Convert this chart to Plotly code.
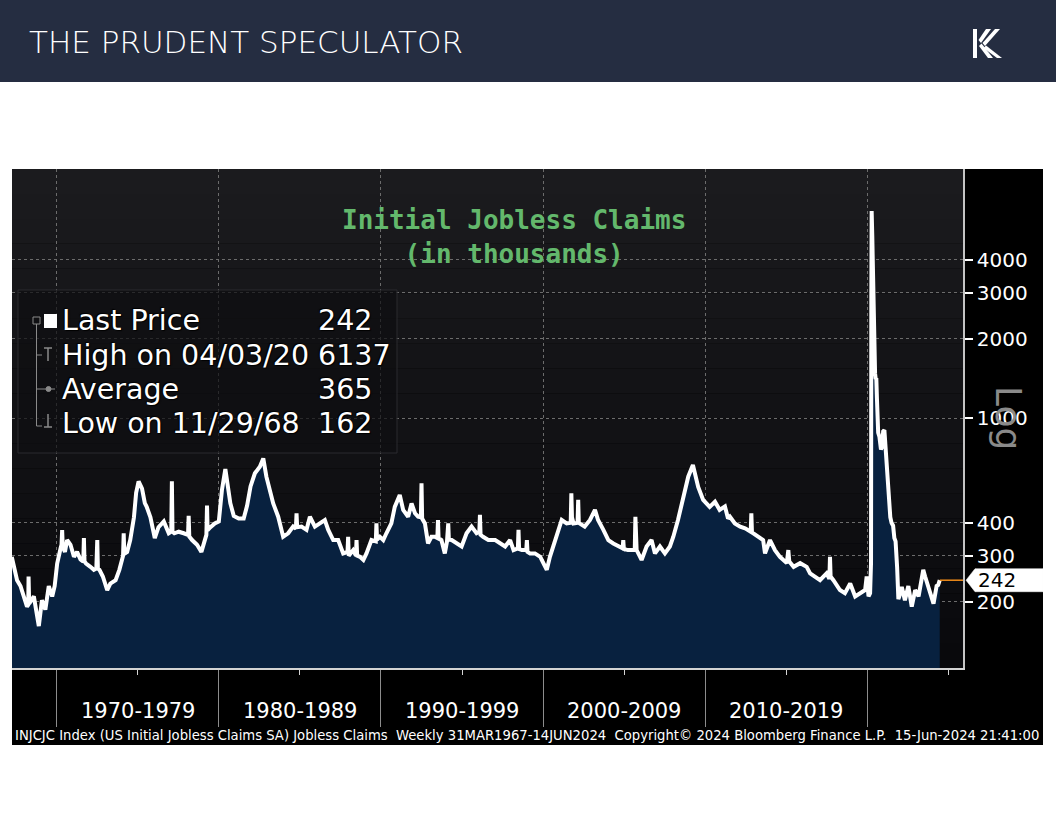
import math
import plotly.graph_objects as go

W, H = 1056, 816


def px(x):
    return x / W


def py(y):
    return 1 - y / H


# ---------------- data ----------------
dates = [
    '1967-03-31', '1967-06-09', '1967-07-28', '1967-10-13', '1967-12-22',
    '1968-03-08', '1968-04-05', '1968-04-12', '1968-04-26', '1968-08-09', '1968-10-18', '1968-11-29',
    '1969-02-07', '1969-04-25', '1969-07-11', '1969-09-26', '1969-11-21',
    '1970-01-16', '1970-04-03', '1970-04-24', '1970-05-08', '1970-05-22', '1970-07-10', '1970-08-28', '1970-11-13',
    '1971-01-29', '1971-04-09', '1971-06-25', '1971-08-27', '1971-09-10', '1971-09-24', '1971-10-29',
    '1972-02-04', '1972-04-21', '1972-06-16', '1972-07-07', '1972-07-21', '1972-08-25', '1972-11-10',
    '1973-02-16', '1973-04-27', '1973-08-24', '1973-11-16',
    '1974-02-08', '1974-02-22', '1974-03-08', '1974-05-10', '1974-07-19', '1974-10-11', '1974-11-29',
    '1975-01-24', '1975-04-11', '1975-06-13', '1975-07-25', '1975-10-17',
    '1976-01-23', '1976-04-16', '1976-08-13', '1976-12-03',
    '1977-01-28', '1977-02-11', '1977-02-25', '1977-04-08', '1977-07-15', '1977-11-04',
    '1978-02-10', '1978-02-24', '1978-03-10', '1978-05-12', '1978-09-01', '1978-12-08',
    '1979-02-23', '1979-03-30', '1979-04-13', '1979-04-27', '1979-06-29', '1979-10-05',
    '1980-01-04', '1980-03-14', '1980-05-30', '1980-07-25', '1980-09-19', '1980-12-05',
    '1981-03-27', '1981-07-17', '1981-10-02', '1981-12-18',
    '1982-03-26', '1982-07-16', '1982-10-01', '1982-12-10',
    '1983-02-25', '1983-05-13', '1983-09-02', '1983-12-23',
    '1984-04-13', '1984-08-03', '1984-10-05', '1984-10-19', '1984-11-02',
    '1985-02-08', '1985-05-31', '1985-08-16', '1985-12-06',
    '1986-03-28', '1986-07-18', '1986-10-03',
    '1987-01-23', '1987-05-15', '1987-09-04', '1987-12-11', '1987-12-25',
    '1988-01-08', '1988-04-15', '1988-06-17', '1988-07-01', '1988-07-15', '1988-09-16', '1988-12-02',
    '1989-02-10', '1989-06-02', '1989-09-08', '1989-09-22', '1989-10-06', '1989-12-08',
    '1990-02-23', '1990-05-04', '1990-08-24', '1990-11-09',
    '1991-03-01', '1991-05-17', '1991-09-06', '1991-11-22',
    '1992-02-07', '1992-04-17', '1992-06-19', '1992-07-03', '1992-07-17', '1992-09-18', '1992-11-27',
    '1993-02-12', '1993-04-30', '1993-06-25', '1993-07-09', '1993-07-23', '1993-09-24', '1993-12-10',
    '1994-01-28', '1994-02-25', '1994-03-11', '1994-05-13', '1994-09-02', '1994-12-23',
    '1995-04-14', '1995-08-04', '1995-11-24',
    '1996-01-26', '1996-02-09', '1996-02-23', '1996-04-19', '1996-08-16',
    '1997-01-17', '1997-05-09', '1997-08-29', '1997-12-19',
    '1998-03-06', '1998-06-12', '1998-06-26', '1998-07-10', '1998-09-11', '1998-12-18',
    '1999-01-01', '1999-01-15', '1999-03-12', '1999-07-02', '1999-10-29',
    '2000-01-07', '2000-03-24', '2000-06-02', '2000-09-29', '2000-12-15',
    '2001-02-23', '2001-06-15', '2001-09-14', '2001-09-28', '2001-10-12', '2001-11-16',
    '2002-02-15', '2002-03-01', '2002-03-15', '2002-07-26', '2002-11-22',
    '2003-03-14', '2003-05-23', '2003-09-19',
    '2004-01-09', '2004-04-30', '2004-08-20', '2004-11-26', '2004-12-10', '2004-12-24',
    '2005-03-25', '2005-08-26', '2005-09-09', '2005-09-23', '2005-10-07',
    '2006-01-27', '2006-05-19', '2006-09-08', '2006-11-24',
    '2007-03-16', '2007-07-06', '2007-10-26',
    '2008-01-11', '2008-04-25', '2008-07-11', '2008-09-26', '2008-12-12',
    '2009-03-27', '2009-05-08', '2009-07-24', '2009-11-13',
    '2010-04-09', '2010-08-06', '2010-11-19',
    '2011-03-18', '2011-05-27', '2011-07-08', '2011-10-28',
    '2012-02-24', '2012-06-15', '2012-10-19', '2012-11-02', '2012-11-16', '2012-12-14',
    '2013-04-05', '2013-07-26', '2013-09-06', '2013-12-27',
    '2014-04-18', '2014-08-08',
    '2015-01-09', '2015-02-13', '2015-03-06', '2015-06-12', '2015-11-06',
    '2016-04-01', '2016-06-17', '2016-10-07',
    '2017-01-27', '2017-06-23', '2017-08-25', '2017-09-08', '2017-09-22', '2017-11-24',
    '2018-04-20', '2018-08-10', '2018-12-07',
    '2019-03-29', '2019-07-19', '2019-11-08', '2019-12-13',
    '2020-01-24', '2020-02-28', '2020-03-20', '2020-03-27', '2020-04-03', '2020-04-10',
    '2020-04-17', '2020-04-24', '2020-05-01', '2020-05-08', '2020-05-15', '2020-05-22',
    '2020-05-29', '2020-06-05', '2020-06-19', '2020-07-03', '2020-07-17', '2020-07-31',
    '2020-08-14', '2020-08-28', '2020-09-25', '2020-10-30', '2020-11-27', '2020-12-18',
    '2021-01-15', '2021-02-26', '2021-03-26', '2021-04-16', '2021-05-28', '2021-06-25',
    '2021-07-30', '2021-08-27', '2021-09-24', '2021-10-29', '2021-11-26', '2021-12-17',
    '2022-02-11', '2022-04-22', '2022-07-08', '2022-09-23', '2022-12-09',
    '2023-02-24', '2023-05-12', '2023-06-09', '2023-07-21', '2023-11-10',
    '2024-01-26', '2024-04-05', '2024-05-10', '2024-06-14',
]

claims = [
    297, 257, 242, 230, 210,
    192, 195, 250, 197, 210, 181, 162,
    203, 187, 230, 210, 230,
    280, 320, 330, 375, 325, 310, 344, 330,
    297, 310, 290, 285, 350, 285, 280,
    272, 265, 268, 344, 268, 265, 250,
    222, 235, 242, 265,
    300, 365, 305, 310, 344, 420, 520,
    575, 540, 475, 460, 420,
    350, 385, 405, 365,
    370, 575, 370, 365, 370, 365,
    360, 425, 355, 344, 330, 310,
    344, 360, 465, 375, 385, 398,
    405, 533, 640, 565, 475, 425,
    415, 415, 465, 550,
    617, 654, 703, 599,
    533, 474, 422, 354,
    365, 387, 380, 435, 385,
    387, 376, 422, 387,
    398, 410, 376,
    344, 344, 306, 310, 354,
    300, 315, 300, 344, 300, 297, 289,
    306, 344, 340, 398, 345, 354,
    344, 365, 398, 460,
    510, 448, 422, 474,
    435, 422, 420, 565, 415, 398, 334,
    354, 354, 350, 410, 350, 344, 306,
    340, 398, 345, 344, 334, 325,
    365, 387, 365,
    370, 429, 360, 354, 344,
    344, 334, 325, 344,
    315, 320, 376, 318, 315, 315,
    344, 310, 306, 306, 297,
    281, 265, 297, 344, 376,
    410, 398, 400, 518, 420, 398,
    400, 489, 400, 387, 410,
    448, 410, 376,
    344, 334, 325, 320, 344, 318,
    315, 315, 422, 330, 315,
    289, 325, 344, 306,
    325, 306, 325,
    354, 410, 460, 533, 599,
    664, 617, 548, 489,
    460, 481, 448,
    462, 415, 422, 398,
    387, 381, 370, 435, 368, 365,
    354, 344, 306, 344,
    315, 297,
    281, 315, 285, 272, 281,
    272, 257, 249,
    242, 257, 245, 297, 250, 242,
    222, 216, 235,
    210, 216, 222, 250,
    210, 216, 282, 2914, 6137, 5900,
    4950, 4300, 3450, 2800, 2450, 2150,
    1900, 1560, 1480, 1410, 1420, 1190,
    1000, 880, 850, 760, 780, 890,
    900, 700, 660, 560, 420, 400,
    390, 350, 340, 270, 205, 210,
    228, 203, 230, 192, 222,
    210, 250, 265, 250, 216,
    197, 230, 232, 242,
]

decade_starts = ['1970-01-01', '1980-01-01', '1990-01-01', '2000-01-01', '2010-01-01', '2020-01-01']
mid_decades = ['1975-01-01', '1985-01-01', '1995-01-01', '2005-01-01', '2015-01-01', '2025-01-01']
decade_labels = ['1970-1979', '1980-1989', '1990-1999', '2000-2009', '2010-2019']
y_ticks = [200, 300, 400, 1000, 2000, 3000, 4000]
stat_labels = ['Last Price', 'High on 04/03/20', 'Average', 'Low on 11/29/68']
stat_values = ['242', '6137', '365', '162']

x_range = ['1967-04-05', '2025-11-20']
y_range = [math.log10(112.2), math.log10(8860)]

title_text = 'Initial Jobless Claims<br>(in thousands)'
header_text = 'THE PRUDENT SPECULATOR'
footer_text = ('INJCJC Index (US Initial Jobless Claims SA) Jobless Claims\u00a0 Weekly 31MAR1967-14JUN2024'
               '\u00a0 Copyright\u00a9 2024 Bloomberg Finance L.P.\u00a0 15-Jun-2024 21:41:00')

# ---------------- figure ----------------
fig = go.Figure()
fig.add_trace(go.Scatter(
    x=dates, y=claims, mode='lines', fill='tozeroy',
    fillcolor='#08213f', line=dict(color='white', width=4),
    hoverinfo='x+y', showlegend=False,
))

shapes = []
# header band
shapes.append(dict(type='rect', xref='paper', yref='paper', x0=0, x1=1, y0=py(82), y1=1,
                   fillcolor='#252d41', line=dict(width=0), layer='below'))
# black chart frame
shapes.append(dict(type='rect', xref='paper', yref='paper', x0=px(12), x1=px(1043), y0=py(745), y1=py(169),
                   fillcolor='#000000', line=dict(width=0), layer='below'))
# plot-area gradient bands
n_bands = 20
top_c, bot_c = (27, 27, 30), (9, 9, 12)
for i in range(n_bands):
    t = i / (n_bands - 1)
    c = tuple(round(top_c[k] + (bot_c[k] - top_c[k]) * t) for k in range(3))
    y0p = 169 + (668 - 169) * i / n_bands
    y1p = 169 + (668 - 169) * (i + 1) / n_bands
    shapes.append(dict(type='rect', xref='paper', yref='paper', x0=px(12), x1=px(963),
                       y0=py(y1p), y1=py(y0p), fillcolor='rgb(%d,%d,%d)' % c,
                       line=dict(width=0), layer='below'))

# legend/stat box
shapes.append(dict(type='rect', xref='paper', yref='paper', x0=px(18), x1=px(397), y0=py(453), y1=py(290),
                   fillcolor='rgba(14,14,17,0.7)', line=dict(color='#2a2a2f', width=1), layer='above'))
# tree glyphs in the stat box
g = '#8a8a8a'
shapes.append(dict(type='rect', xref='paper', yref='paper', x0=px(33), x1=px(40), y0=py(324), y1=py(317),
                   line=dict(color=g, width=1), fillcolor='rgba(0,0,0,0)', layer='above'))
shapes.append(dict(type='line', xref='paper', yref='paper', x0=px(36.5), x1=px(36.5), y0=py(324), y1=py(426),
                   line=dict(color=g, width=1), layer='above'))
for yy in (355, 389, 426):
    shapes.append(dict(type='line', xref='paper', yref='paper', x0=px(36.5), x1=px(42), y0=py(yy), y1=py(yy),
                       line=dict(color=g, width=1), layer='above'))
shapes.append(dict(type='line', xref='paper', yref='paper', x0=px(44), x1=px(52), y0=py(348), y1=py(348),
                   line=dict(color=g, width=1.5), layer='above'))
shapes.append(dict(type='line', xref='paper', yref='paper', x0=px(48), x1=px(48), y0=py(348), y1=py(361),
                   line=dict(color=g, width=1.5), layer='above'))
shapes.append(dict(type='line', xref='paper', yref='paper', x0=px(42), x1=px(55), y0=py(389), y1=py(389),
                   line=dict(color=g, width=1), layer='above'))
shapes.append(dict(type='circle', xref='paper', yref='paper', x0=px(46), x1=px(51), y0=py(391.5), y1=py(386.5),
                   line=dict(color=g, width=1), fillcolor=g, layer='above'))
shapes.append(dict(type='line', xref='paper', yref='paper', x0=px(44), x1=px(52), y0=py(427), y1=py(427),
                   line=dict(color=g, width=1.5), layer='above'))
shapes.append(dict(type='line', xref='paper', yref='paper', x0=px(48), x1=px(48), y0=py(414), y1=py(427),
                   line=dict(color=g, width=1.5), layer='above'))
# white square before "Last Price"
shapes.append(dict(type='rect', xref='paper', yref='paper', x0=px(44), x1=px(57), y0=py(328), y1=py(314),
                   fillcolor='white', line=dict(width=0), layer='above'))

# last value line + pointer box (shapes on a log axis take data values)
last_val = claims[-1]
lv = math.log10(last_val)
dy = 11.5 / (499 / (y_range[1] - y_range[0]))
hi, lo = last_val * 10 ** dy, last_val / 10 ** dy
shapes.append(dict(type='line', xref='x', yref='y', x0=dates[-1], x1=x_range[1], y0=last_val, y1=last_val,
                   line=dict(color='#f08c1a', width=1.5), layer='above'))
shapes.append(dict(type='path', xref='paper', yref='y',
                   path='M %f,%f L %f,%f L %f,%f L %f,%f L %f,%f Z' % (
                       px(966), last_val, px(975), hi, px(1043), hi, px(1043), lo, px(975), lo),
                   fillcolor='white', line=dict(color='white', width=0.5), layer='above'))

# logo (stylised stripes)
logo_paths = [
    [(973, 29), (977, 29), (977, 58), (973, 58)],
    [(986, 29), (991, 29), (981, 43), (978.5, 40)],
    [(995, 29), (1000, 29), (985, 46), (982.5, 43)],
    [(979, 46), (981.5, 43.5), (993, 58), (988, 58)],
    [(983.5, 48), (986, 45.5), (1002, 58), (997, 58)],
]
for pts in logo_paths:
    p = 'M ' + ' L '.join('%f,%f' % (px(a), py(b)) for a, b in pts) + ' Z'
    shapes.append(dict(type='path', xref='paper', yref='paper', path=p, fillcolor='white',
                       line=dict(width=0), layer='above'))

annotations = []
shadow = '1px 1px 1px #000, -1px -1px 1px #000'
# header title
annotations.append(dict(text=header_text, x=px(27), y=py(42), xref='paper', yref='paper',
                        xanchor='left', yanchor='middle', showarrow=False,
                        font=dict(family='DejaVu Sans', size=31, color='white', weight=200)))
# chart title
annotations.append(dict(text=title_text, x=px(514), y=py(237), xref='paper', yref='paper',
                        xanchor='center', yanchor='middle', showarrow=False,
                        font=dict(family='DejaVu Sans Mono', size=26, color='#63b86c', weight='bold')))
# stat box texts
for i, (lab, val) in enumerate(zip(stat_labels, stat_values)):
    yc = 321 + 34 * i
    annotations.append(dict(text=lab, x=px(60), y=py(yc), xref='paper', yref='paper',
                            xanchor='left', yanchor='middle', showarrow=False,
                            font=dict(family='DejaVu Sans', size=28.5, color='white', shadow=shadow)))
    annotations.append(dict(text=val, x=px(316), y=py(yc), xref='paper', yref='paper',
                            xanchor='left', yanchor='middle', showarrow=False,
                            font=dict(family='DejaVu Sans', size=28.5, color='white', shadow=shadow)))
# decade labels
for xm, lab in zip(mid_decades, decade_labels):
    annotations.append(dict(text=lab, x=xm, y=py(711), xref='x', yref='paper',
                            xanchor='center', yanchor='middle', showarrow=False,
                            font=dict(family='DejaVu Sans', size=21, color='white')))
# Log label
annotations.append(dict(text='Log', x=px(1008), y=py(418), xref='paper', yref='paper',
                        xanchor='center', yanchor='middle', showarrow=False, textangle=90,
                        font=dict(family='DejaVu Sans', size=36, color='#8a8a8a')))
# last value text (annotations on a log axis take log10 positions)
annotations.append(dict(text=str(last_val), x=px(976), y=lv, xref='paper', yref='y',
                        xanchor='left', yanchor='middle', showarrow=False,
                        font=dict(family='DejaVu Sans', size=20, color='black')))
# footer
annotations.append(dict(text=footer_text, x=px(13), y=py(735), xref='paper', yref='paper',
                        xanchor='left', yanchor='middle', showarrow=False,
                        font=dict(family='DejaVu Sans', size=13.2, color='white')))

fig.update_layout(
    width=W, height=H, autosize=False,
    margin=dict(l=0, r=0, t=0, b=0),
    paper_bgcolor='white', plot_bgcolor='rgba(0,0,0,0)',
    showlegend=False,
    shapes=shapes, annotations=annotations,
    xaxis=dict(
        type='date', range=x_range, domain=[px(12), px(963)],
        showticklabels=False, tickmode='array', tickvals=decade_starts,
        ticks='outside', ticklen=57, tickwidth=1, tickcolor='#8c8c8c',
        showgrid=True, gridcolor='#6c6c6c', griddash='dot', gridwidth=1,
        showline=True, linecolor='#d4d4d4', linewidth=1.5, zeroline=False,
        minor=dict(tickmode='array', tickvals=mid_decades, ticks='outside', ticklen=5,
                   tickcolor='#d4d4d4', tickwidth=1, showgrid=False),
    ),
    yaxis=dict(
        type='log', range=y_range, domain=[py(668), py(169)], side='right',
        tickmode='array', tickvals=y_ticks, ticktext=[str(v) for v in y_ticks],
        tickfont=dict(family='DejaVu Sans', size=20, color='white', shadow=shadow),
        ticks='outside', ticklen=8, tickwidth=2, tickcolor='white',
        showgrid=True, gridcolor='#6c6c6c', griddash='dot', gridwidth=1,
        showline=True, linecolor='#c4c4c4', linewidth=1.5, zeroline=False,
    ),
)

# remove the browser's default 8px page margin so the figure sits at the window origin
fig.write_html('out.html', config={'displayModeBar': False},
               post_script="document.body.style.margin='0';")
